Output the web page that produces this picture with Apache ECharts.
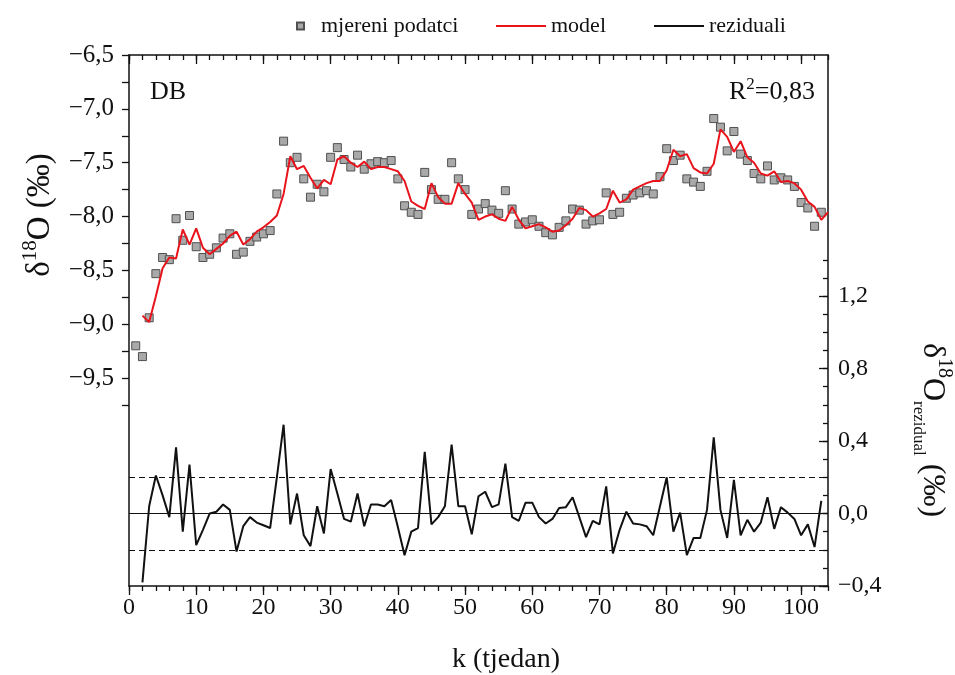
<!DOCTYPE html>
<html>
<head>
<meta charset="utf-8">
<script src="https://cdn.jsdelivr.net/npm/echarts@6/dist/echarts.min.js"></script>
<style>
  html, body { margin: 0; padding: 0; background: #fff; }
  #chart { width: 955px; height: 675px; }
</style>
</head>
<body>
<div id="chart"></div>
<script>
// measured d18O, weeks 1..103
var measuredStart = 1;
var measured = [-9.20,-9.30,-8.94,-8.53,-8.38,-8.40,-8.02,-8.22,-7.99,-8.28,
  -8.38,-8.35,-8.29,-8.20,-8.16,-8.35,-8.33,-8.23,-8.19,-8.16,
  -8.13,-7.79,-7.30,-7.50,-7.45,-7.65,-7.82,-7.70,-7.77,-7.45,
  -7.36,-7.47,-7.54,-7.43,-7.56,-7.51,-7.49,-7.50,-7.48,-7.65,
  -7.90,-7.96,-7.98,-7.59,-7.75,-7.84,-7.84,-7.50,-7.65,-7.75,
  -7.98,-7.93,-7.88,-7.94,-7.97,-7.76,-7.93,-8.07,-8.05,-8.03,
  -8.09,-8.15,-8.17,-8.10,-8.04,-7.93,-7.94,-8.07,-8.04,-8.03,
  -7.78,-7.98,-7.96,-7.83,-7.80,-7.78,-7.76,-7.79,-7.63,-7.37,
  -7.48,-7.43,-7.65,-7.68,-7.72,-7.58,-7.09,-7.17,-7.39,-7.21,
  -7.42,-7.48,-7.60,-7.65,-7.53,-7.66,-7.64,-7.66,-7.72,-7.87,
  -7.92,-8.09,-7.96];

// model, weeks 2..104
var modelStart = 2;
var model = [-8.92,-8.98,-8.74,-8.48,-8.38,-8.39,-8.12,-8.26,-8.11,
  -8.29,-8.35,-8.30,-8.25,-8.18,-8.14,-8.26,-8.21,-8.14,-8.10,
  -8.05,-7.99,-7.79,-7.44,-7.56,-7.53,-7.64,-7.74,-7.66,-7.70,
  -7.47,-7.44,-7.50,-7.54,-7.49,-7.56,-7.54,-7.54,-7.56,-7.58,
  -7.67,-7.86,-7.90,-7.93,-7.69,-7.82,-7.88,-7.88,-7.69,-7.79,
  -7.87,-8.03,-8.00,-7.98,-8.02,-8.04,-7.91,-8.03,-8.11,-8.09,
  -8.07,-8.10,-8.14,-8.13,-8.08,-8.02,-7.92,-7.94,-8.00,-7.97,
  -7.93,-7.76,-7.87,-7.84,-7.75,-7.72,-7.69,-7.67,-7.67,-7.57,
  -7.38,-7.44,-7.42,-7.55,-7.59,-7.60,-7.51,-7.19,-7.26,-7.40,
  -7.30,-7.45,-7.50,-7.60,-7.62,-7.58,-7.68,-7.67,-7.69,-7.75,
  -7.86,-7.91,-8.03,-7.96];

// residuals, weeks 2..103
var residStart = 2;
var resid = [-0.38,0.04,0.21,0.10,-0.02,0.365,-0.10,0.27,-0.175,
  -0.09,0.00,0.01,0.05,0.02,-0.21,-0.07,-0.02,-0.05,-0.065,
  -0.08,0.20,0.49,-0.06,0.11,-0.12,-0.18,0.04,-0.11,0.245,
  0.11,-0.03,-0.045,0.11,-0.07,0.05,0.05,0.04,0.075,-0.075,
  -0.23,-0.10,-0.08,0.34,-0.06,-0.02,0.04,0.38,0.04,0.04,
  -0.115,0.095,0.12,0.035,0.05,0.275,-0.02,-0.04,0.06,0.06,
  -0.02,-0.055,-0.03,0.03,0.035,0.09,-0.02,-0.13,-0.04,-0.06,
  0.15,-0.22,-0.09,0.01,-0.055,-0.06,-0.07,-0.12,0.04,0.20,
  -0.10,0.005,-0.23,-0.135,-0.135,0.02,0.42,0.02,-0.135,0.185,
  -0.12,-0.035,-0.10,-0.05,0.09,-0.085,0.035,0.005,-0.03,-0.12,
  -0.06,-0.185,0.07];

var residLimits = [0.2, -0.2];

// axis ranges, ticks and labels
var leftRange = [-11.43, -6.5];
var leftTickRange = [-9.75, -6.5];
var rightRange = [-0.4, 2.53];
var xLabels = [0,10,20,30,40,50,60,70,80,90,100];
var xMinor = [0,2,4,6,8,10,12,14,16,18,20,22,24,26,28,30,32,34,36,38,40,42,44,46,48,50,
  52,54,56,58,60,62,64,66,68,70,72,74,76,78,80,82,84,86,88,90,92,94,96,98,100,102,104];
var leftLabels = [-9.5,-9.0,-8.5,-8.0,-7.5,-7.0,-6.5];
var rightLabels = [-0.4,0.0,0.4,0.8,1.2];
var rightMinor = [-0.4,-0.3,-0.2,-0.1,0.0,0.1,0.2,0.3,0.4,0.5,0.6,0.7,0.8,0.9,1.0,1.1,1.2,1.3,1.4];

function pairs(start, arr) {
  return arr.map(function (v, i) { return [start + i, v]; });
}
function comma(v) {
  return (+v).toFixed(1).replace('.', ',').replace('-', '\u2212');
}

var FONT = '"Liberation Serif", "Times New Roman", serif';
var INK = '#111';
var H = 675;
var GRID = { left: 129, right: 127, top: 55, bottom: 89, outerBoundsMode: 'none' };
// the left ticks only run over the upper part of the axis: own grid, same scale
var plotH = H - GRID.top - GRID.bottom;
var pxPerUnit = plotH / (leftRange[1] - leftRange[0]);
var tickGridH = (leftTickRange[1] - leftTickRange[0]) * pxPerUnit;

var chart = echarts.init(document.getElementById('chart'));

function xAx(grid, pos, ticks, len, inside, showLine, labels) {
  return {
    type: 'value', gridIndex: grid, position: pos, min: 0, max: 104,
    axisLine: { show: showLine, onZero: false, lineStyle: { color: INK, width: 1.5 } },
    axisTick: { show: true, inside: inside, length: len, customValues: ticks, lineStyle: { color: INK, width: 1.3 } },
    axisLabel: labels ? { show: true, customValues: labels, fontFamily: FONT, fontSize: 24, color: INK, margin: 10 } : { show: false },
    splitLine: { show: false }
  };
}

var lineLegend = { top: 10, itemWidth: 50, itemHeight: 2,
  textStyle: { fontFamily: FONT, fontSize: 22, color: INK } };

var option = {
  animation: false,
  backgroundColor: '#fff',
  grid: [
    Object.assign({}, GRID),
    Object.assign({}, GRID),
    { left: GRID.left, right: GRID.right, top: GRID.top, height: tickGridH, outerBoundsMode: 'none' }
  ],
  legend: [
    { left: 291, top: 10, data: ['mjereni podatci'], itemWidth: 7, itemHeight: 7,
      textStyle: { fontFamily: FONT, fontSize: 22, color: INK, padding: [0, 0, 0, 12] } },
    Object.assign({ left: 490, data: ['model'] }, lineLegend),
    Object.assign({ left: 648, data: ['reziduali'] }, lineLegend)
  ],
  xAxis: [
    xAx(0, 'bottom', xLabels, 9, false, true, xLabels),
    xAx(0, 'top', xLabels, 9, true, true, null),
    xAx(1, 'bottom', xMinor, 5, false, false, null),
    xAx(1, 'top', xMinor, 5, true, false, null),
    { type: 'value', gridIndex: 2, min: 0, max: 104, show: false }
  ],
  yAxis: [
    {
      type: 'value', gridIndex: 0, position: 'left', min: leftRange[0], max: leftRange[1],
      axisLine: { show: true, onZero: false, lineStyle: { color: INK, width: 1.5 } },
      axisTick: { show: false },
      axisLabel: { customValues: leftLabels, formatter: comma, fontFamily: FONT, fontSize: 25, color: INK, margin: 15 },
      splitLine: { show: false }
    },
    {
      type: 'value', gridIndex: 0, position: 'right', min: rightRange[0], max: rightRange[1],
      axisLine: { show: true, onZero: false, lineStyle: { color: INK, width: 1.5 } },
      axisTick: { show: true, inside: true, length: 9, customValues: rightLabels, lineStyle: { color: INK, width: 1.3 } },
      axisLabel: { customValues: rightLabels, formatter: comma, fontFamily: FONT, fontSize: 24, color: INK, margin: 10 },
      splitLine: { show: false }
    },
    {
      type: 'value', gridIndex: 1, position: 'right', min: rightRange[0], max: rightRange[1],
      axisLine: { show: false, onZero: false },
      axisTick: { show: true, inside: true, length: 5, customValues: rightMinor, lineStyle: { color: INK, width: 1.3 } },
      axisLabel: { show: false },
      splitLine: { show: false }
    },
    {
      type: 'value', gridIndex: 1, position: 'left', min: 1, max: 2,
      axisLine: { show: false, onZero: false }, axisTick: { show: false }, axisLabel: { show: false }, splitLine: { show: false }
    },
    {
      type: 'value', gridIndex: 2, position: 'left', min: leftTickRange[0], max: leftTickRange[1], interval: 0.25,
      axisLine: { show: false, onZero: false },
      axisTick: { show: true, inside: false, length: 7, lineStyle: { color: INK, width: 1.3 } },
      axisLabel: { show: false },
      splitLine: { show: false }
    }
  ],
  series: [
    {
      name: 'mjereni podatci', type: 'scatter', xAxisIndex: 0, yAxisIndex: 0, z: 2,
      symbol: 'rect', symbolSize: 8,
      itemStyle: { color: '#a9a9a9', borderColor: '#505050', borderWidth: 1, opacity: 1 },
      data: pairs(measuredStart, measured)
    },
    {
      name: 'model', type: 'line', xAxisIndex: 0, yAxisIndex: 0, z: 3,
      symbol: 'none', color: '#e8131b',
      lineStyle: { color: '#e8131b', width: 2 },
      data: pairs(modelStart, model)
    },
    {
      name: 'reziduali', type: 'line', xAxisIndex: 0, yAxisIndex: 1, z: 3,
      symbol: 'none', color: INK,
      lineStyle: { color: INK, width: 2 },
      data: pairs(residStart, resid),
      markLine: {
        silent: true, symbol: 'none', label: { show: false },
        data: [
          { yAxis: 0, lineStyle: { type: 'solid', color: INK, width: 1 } },
          { yAxis: residLimits[0], lineStyle: { type: [6, 4], color: INK, width: 1 } },
          { yAxis: residLimits[1], lineStyle: { type: [6, 4], color: INK, width: 1 } }
        ]
      }
    }
  ],
  graphic: [
    { type: 'text', x: 150, y: 79, style: { text: 'DB', font: '26px ' + FONT, fill: INK } },
    {
      type: 'text', x: 815, y: 92,
      style: {
        text: '{a|R}{s|2}{a|=0,83}', align: 'right', verticalAlign: 'middle',
        rich: {
          a: { fontFamily: FONT, fontSize: 26, fill: INK, lineHeight: 32 },
          s: { fontFamily: FONT, fontSize: 17, fill: INK, verticalAlign: 'top', lineHeight: 32 }
        }
      }
    },
    {
      type: 'text', x: 506, y: 660,
      style: { text: 'k (tjedan)', font: '28px ' + FONT, fill: INK, align: 'center', verticalAlign: 'middle' }
    },
    {
      type: 'text', x: 40, y: 215, rotation: Math.PI / 2,
      style: {
        text: '{a|δ}{s|18}{a|O (‰)}', align: 'center', verticalAlign: 'middle',
        rich: {
          a: { fontFamily: FONT, fontSize: 33, fill: INK, lineHeight: 40 },
          s: { fontFamily: FONT, fontSize: 21, fill: INK, verticalAlign: 'top', lineHeight: 40 }
        }
      }
    },
    {
      type: 'text', x: 932, y: 430, rotation: -Math.PI / 2,
      style: {
        text: '{a|δ}{s|18}{a|O}{b|rezidual}{a| (‰)}', align: 'center', verticalAlign: 'middle',
        rich: {
          a: { fontFamily: FONT, fontSize: 32, fill: INK, lineHeight: 44 },
          s: { fontFamily: FONT, fontSize: 20, fill: INK, verticalAlign: 'top', lineHeight: 44 },
          b: { fontFamily: FONT, fontSize: 17, fill: INK, verticalAlign: 'bottom', lineHeight: 44 }
        }
      }
    }
  ]
};

chart.setOption(option);
</script>
</body>
</html>
